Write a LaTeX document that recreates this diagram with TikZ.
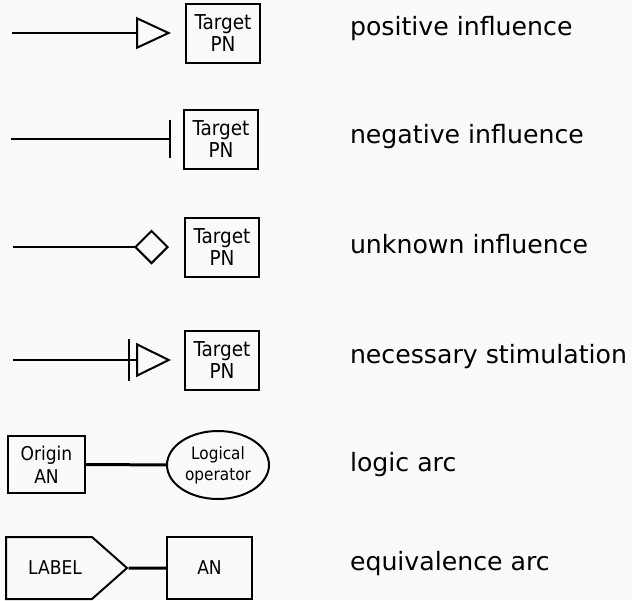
\documentclass[tikz,border=0pt]{standalone}
\usepackage{fontspec}
\setmainfont{DejaVu Sans}
\newfontfamily\condfont{DejaVu Sans Condensed}
\usetikzlibrary{arrows.meta,shapes.geometric,shapes.symbols}
\definecolor{bgcol}{RGB}{250,250,250}
\begin{document}
\begin{tikzpicture}[x=1pt,y=-1pt,line width=2pt,
  pn/.style={draw,minimum width=74pt,minimum height=59pt,inner sep=0pt,align=center,
    font=\condfont\fontsize{20.5}{22.6}\selectfont},
  an/.style={pn,minimum width=77pt,minimum height=57pt,font=\condfont\fontsize{19}{23}\selectfont},
  logic/.style={draw,ellipse,minimum width=102pt,minimum height=68pt,inner sep=0pt,align=center,
    font=\condfont\fontsize{17}{21}\selectfont},
  legend/.style={anchor=base west,inner sep=0pt,font=\fontsize{25.2}{30}\selectfont}]
\fill[bgcol] (0,0) rectangle (632,600);
\node[pn] (pos-pn) at (223,33) {Target\\PN};
\coordinate (pos-in) at (12,33);
\draw[-{Triangle[open,length=35pt,width=32pt]},shorten >=14pt] (pos-in) -- (pos-pn);
\node[legend] (pos-txt) at (349,35) {positive influence};
\node[pn] (neg-pn) at (221,139) {Target\\PN};
\coordinate (neg-in) at (11,139);
\draw[-{Bar[width=38pt]},shorten >=12pt] (neg-in) -- (neg-pn);
\node[legend] (neg-txt) at (349,143) {negative influence};
\node[pn] (unk-pn) at (222,247) {Target\\PN};
\coordinate (unk-in) at (13,247);
\draw[-{Diamond[open,length=35pt,width=35pt]},shorten >=15pt] (unk-in) -- (unk-pn);
\node[legend] (unk-txt) at (349,253) {unknown influence};
\node[pn] (nec-pn) at (222,360) {Target\\PN};
\coordinate (nec-in) at (13,360);
\draw[-{Bar[width=42pt,sep=6pt]Triangle[open,length=35pt,width=34pt]},shorten >=13pt] (nec-in) -- (nec-pn);
\node[legend] (nec-txt) at (349,363) {necessary stimulation};
\node[an] (origin) at (46.5,464.5) {Origin\\AN};
\node[logic] (op) at (218,465) {Logical\\operator};
\draw[line width=3pt] (origin) -- (op);
\node[legend] (logic-txt) at (349,471) {logic arc};
\node[draw,signal,signal to=east,signal pointer angle=83,minimum width=121pt,minimum height=62pt,
  inner sep=0pt,font=\condfont\fontsize{19}{23}\selectfont] (label) at (49,568) {\hspace*{12pt}LABEL};
\node[pn,minimum width=85pt,minimum height=62pt,font=\condfont\fontsize{19}{23}\selectfont] (eq-an) at (209.5,568) {AN};
\draw[line width=3pt] (label) -- (eq-an);
\node[legend] (eq-txt) at (349,570) {equivalence arc};
\end{tikzpicture}
\end{document}
